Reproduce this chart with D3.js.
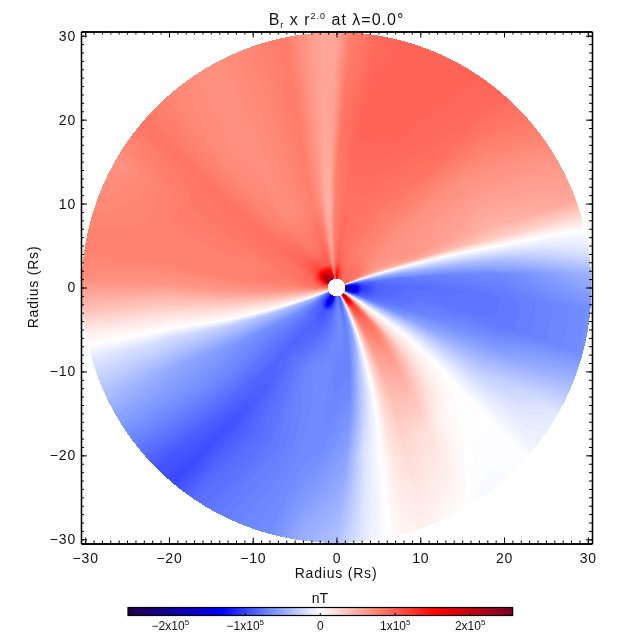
<!DOCTYPE html>
<html>
<head>
<meta charset="utf-8">
<script src="https://cdn.jsdelivr.net/npm/d3@7"></script>
<style>
  html, body { margin: 0; background: #fff; }
  #wrap { position: relative; width: 640px; height: 640px; }
  canvas, svg { position: absolute; left: 0; top: 0; }
  text { font-family: "Liberation Sans", sans-serif; fill: #111; }
</style>
</head>
<body>
<div id="wrap"><canvas id="heat" width="640" height="640"></canvas><svg id="chart" width="640" height="640"></svg></div>
<script>
// rings the field was read on (Rs)
const ringRadii = [30, 20, 10, 5, 3, 1.5];

// where each polarity-reversal line crosses each ring (degrees ccw from +x)
const sheetEast = [13.2, 14.4, 16.8, 18.5, 19, 20];
const sheetWest = [193, 193.8, 197.7, 200, 201.5, 203];
const sheetSouth = [281.5, 285, 291, 295, 297, 298];
const sheetTongue = [317.5, 320, 325, 327, 329, 330];

// azimuths of the columns below, as seen on the outer ring
const azimuths = [13.2, 16, 20, 30, 40, 50, 60, 70, 80, 87, 90, 93, 97, 102, 110, 120, 130, 140, 150, 160, 170, 178, 185, 190, 193,
  196, 205, 215, 225, 230, 236, 245, 255, 262, 270, 276, 281.5,
  285, 290, 300, 305, 310, 317.5,
  322, 330, 337, 345, 355, 363, 368, 373.2];

// Br x r^2 in units of 1000 nT
const ring30 = [0, 23, 54, 65, 81, 93, 96, 96, 93, 78, 54, 54, 65, 81, 74, 68, 74, 85, 68, 73, 78, 70, 39, 12, 0,
  -13, -39, -66, -92, -98, -81, -72, -66, -48, -37, -13, 0,
  6, 9, 2, -3, -3, 0,
  -8, -13, -39, -66, -66, -46, -16, 0];
const ring20 = [0, 31, 47, 59, 70, 88, 93, 96, 96, 85, 59, 54, 65, 82, 74, 68, 71, 85, 82, 78, 78, 65, 34, 12, 0,
  -20, -52, -66, -85, -94, -85, -76, -68, -66, -55, -17, 0,
  16, 25, 20, 8, 3, 0,
  -13, -37, -59, -76, -76, -68, -39, 0];
const ring10 = [0, 54, 65, 65, 70, 78, 84, 87, 87, 78, 47, 51, 70, 78, 73, 71, 78, 87, 84, 78, 78, 65, 34, 12, 0,
  -33, -66, -76, -85, -81, -76, -68, -66, -72, -72, -37, 0,
  28, 54, 65, 47, 23, 0,
  -17, -55, -72, -76, -81, -72, -43, 0];
const ring5 = [0, 47, 62, 70, 74, 78, 81, 85, 93, 78, 54, 62, 85, 93, 85, 85, 93, 93, 85, 85, 78, 62, 34, 12, 0,
  -39, -66, -79, -85, -85, -85, -81, -72, -66, -72, -59, 0,
  39, 78, 93, 85, 31, 0,
  -26, -72, -81, -85, -85, -79, -52, 0];
const ring3 = [0, 47, 78, 85, 85, 85, 85, 90, 100, 85, 62, 70, 90, 100, 100, 110, 115, 105, 95, 90, 85, 62, 34, 12, 0,
  -39, -72, -85, -90, -95, -90, -85, -72, -66, -79, -59, 0,
  47, 105, 120, 100, 39, 0,
  -39, -85, -95, -105, -105, -90, -66, 0];
const ring1 = [0, 60, 93, 90, 90, 93, 100, 116, 160, 120, 80, 90, 160, 200, 210, 230, 240, 210, 150, 110, 90, 65, 34, 12, 0,
  -50, -90, -105, -150, -190, -160, -110, -80, -70, -90, -70, 0,
  60, 180, 220, 180, 60, 0,
  -60, -120, -180, -200, -180, -130, -80, 0];
const rings = [ring30, ring20, ring10, ring5, ring3, ring1];

const axisMajor = [-30, -20, -10, 0, 10, 20, 30];
const axisMinor = d3.range(-30, 31);
const barTicks = [-200000, -100000, 0, 100000, 200000];
const barLabels = ["\u22122", "\u22121", "0", "1", "2"];
const colorValues = [-256500, -131000, -65000, 0, 77000, 155000, 256500];
const colorStops = ["#200048", "#0000ff", "#7490ff", "#ffffff", "#ff8270", "#ff0000", "#7a0028"];

const x = d3.scaleLinear().domain([-30.5, 30.5]).range([81, 592]);
const y = d3.scaleLinear().domain([-30.5, 30.5]).range([543.5, 31.5]);
const color = d3.scaleLinear().domain(colorValues).range(colorStops);

const ringScale = arr => d3.scaleLinear().domain(ringRadii).range(arr).clamp(true);
const eastAt = ringScale(sheetEast), westAt = ringScale(sheetWest),
      southAt = ringScale(sheetSouth), tongueAt = ringScale(sheetTongue);
const ringIndex = d3.scaleLinear().domain(ringRadii).range(d3.range(ringRadii.length)).clamp(true);

// 256 colour table, like the original image
const levels = d3.scaleQuantize().domain([-256500, 256500]).range(d3.range(256));
const table = d3.range(256).map(i => d3.rgb(color(-256500 + (i + 0.5) * 513000 / 256)));

function fieldAt(r, angle) {
  // bring the azimuth back to its outer ring position so spirals stay aligned
  const e = eastAt(r), w = westAt(r), s = southAt(r), t = tongueAt(r);
  let a = angle;
  while (a < e) a += 360;
  while (a >= e + 360) a -= 360;
  let outer;
  if (a < w) outer = 13.2 + (a - e) / (w - e) * (193 - 13.2);
  else if (a < s) outer = 193 + (a - w) / (s - w) * (281.5 - 193);
  else if (a < t) outer = 281.5 + (a - s) / (t - s) * (317.5 - 281.5);
  else outer = 317.5 + (a - t) / (e + 360 - t) * (373.2 - 317.5);

  const col = Math.min(d3.bisectRight(azimuths, outer), azimuths.length - 1);
  const ca = (outer - azimuths[col - 1]) / (azimuths[col] - azimuths[col - 1]);
  const ri = ringIndex(r);
  const r0 = Math.min(Math.floor(ri), ringRadii.length - 2);
  const rf = ri - r0;
  const v0 = rings[r0][col - 1] + ca * (rings[r0][col] - rings[r0][col - 1]);
  const v1 = rings[r0 + 1][col - 1] + ca * (rings[r0 + 1][col] - rings[r0 + 1][col - 1]);
  return (v0 + rf * (v1 - v0)) * 1000;
}

// the disc, one cell per screen pixel
const ctx = document.getElementById("heat").getContext("2d");
const img = ctx.createImageData(640, 640);
for (let py = 32; py < 543; py++) {
  for (let px = 81; px < 592; px++) {
    const vx = x.invert(px + 0.5), vy = y.invert(py + 0.5);
    const r = Math.hypot(vx, vy);
    if (r > 30.42 || r < 1.05) continue;
    const angle = Math.atan2(vy, vx) * 180 / Math.PI;
    const c = table[levels(fieldAt(r, angle))];
    const k = (py * 640 + px) * 4;
    img.data[k] = c.r; img.data[k + 1] = c.g; img.data[k + 2] = c.b; img.data[k + 3] = 255;
  }
}
ctx.putImageData(img, 0, 0);

const svg = d3.select("#chart");

function drawAxis(make, scale, tx, ty, labelled, pad) {
  const minor = make(scale).tickValues(axisMinor).tickSize(-3).tickSizeOuter(0).tickFormat("");
  const major = make(scale).tickValues(axisMajor).tickSize(-6).tickSizeOuter(0).tickPadding(pad);
  if (!labelled) major.tickFormat("");
  const g = svg.append("g").attr("transform", `translate(${tx},${ty})`);
  g.append("g").call(minor);
  const m = g.append("g").call(major);
  m.selectAll("text").attr("font-size", 14).attr("letter-spacing", 0.8);
  g.selectAll("path.domain").attr("stroke", "#000").attr("stroke-width", 1.3);
  g.selectAll("line").attr("stroke", "#000").attr("stroke-width", 1);
}
drawAxis(d3.axisBottom, x, 0, 543.5, true, 10);
drawAxis(d3.axisTop, x, 0, 31.5, false, 9);
drawAxis(d3.axisLeft, y, 81, 0, true, 5);
drawAxis(d3.axisRight, y, 592, 0, false, 9);

svg.append("text").attr("x", 336).attr("y", 578).attr("text-anchor", "middle")
  .attr("font-size", 14).attr("letter-spacing", 0.8).text("Radius (Rs)");
svg.append("text").attr("transform", "translate(38,287) rotate(-90)").attr("text-anchor", "middle")
  .attr("font-size", 14).attr("letter-spacing", 0.8).text("Radius (Rs)");

const title = svg.append("text").attr("x", 336.5).attr("y", 25).attr("text-anchor", "middle")
  .attr("font-size", 16).attr("letter-spacing", 1).attr("xml:space", "preserve");
title.append("tspan").text("B");
title.append("tspan").attr("font-size", 9).attr("dy", 3).text("r");
title.append("tspan").attr("dy", -3).text(" x r");
title.append("tspan").attr("font-size", 9).attr("dy", -6).text("2.0");
title.append("tspan").attr("dy", 6).text(" at \u03bb=0.0\u00b0");

// colour bar
const bar = d3.scaleLinear().domain([-256500, 256500]).range([128, 512.5]);
const barTop = 607.5, barBottom = 615.5;
svg.append("g").selectAll("rect").data(d3.range(128, 512.5, 1)).join("rect")
  .attr("x", d => d).attr("y", barTop).attr("width", 1.2).attr("height", barBottom - barTop)
  .attr("fill", d => color(bar.invert(d + 0.5)));
svg.append("rect").attr("x", 128).attr("y", barTop).attr("width", 384.5).attr("height", barBottom - barTop)
  .attr("fill", "none").attr("stroke", "#000").attr("stroke-width", 1.2);
svg.append("g").selectAll("line").data(barTicks).join("line")
  .attr("x1", d => bar(d)).attr("x2", d => bar(d)).attr("y1", barBottom).attr("y2", barBottom - 2.5)
  .attr("stroke", "#000");
const barText = svg.append("g").selectAll("text").data(barTicks).join("text")
  .attr("x", d => bar(d)).attr("y", 630).attr("text-anchor", "middle").attr("font-size", 12);
barText.each(function (d, i) {
  const t = d3.select(this);
  if (d === 0) { t.text(barLabels[i]); return; }
  t.append("tspan").text(barLabels[i] + "x10");
  t.append("tspan").attr("font-size", 8).attr("dy", -5).text("5");
});
svg.append("text").attr("x", 320).attr("y", 603).attr("text-anchor", "middle")
  .attr("font-size", 14).text("nT");
</script>
</body>
</html>
